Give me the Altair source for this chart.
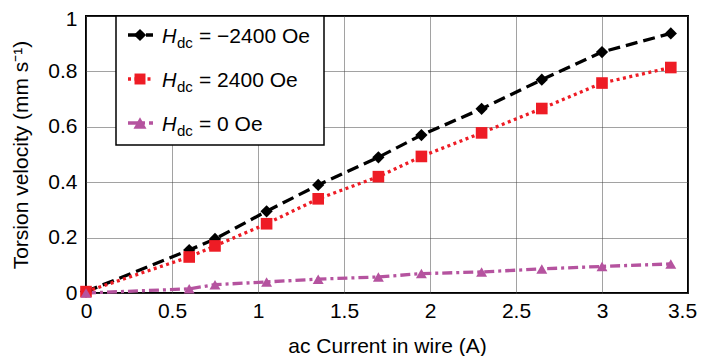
import altair as alt
import pandas as pd

# ---- data ----
current = [0, 0.6, 0.75, 1.05, 1.35, 1.7, 1.95, 2.3, 2.65, 3.0, 3.4]
v_neg2400 = [0.005, 0.155, 0.195, 0.295, 0.39, 0.49, 0.57, 0.665, 0.77, 0.87, 0.937]
v_pos2400 = [0.005, 0.13, 0.17, 0.25, 0.34, 0.42, 0.493, 0.578, 0.666, 0.758, 0.814]
v_zero = [0.0, 0.015, 0.03, 0.04, 0.05, 0.058, 0.07, 0.076, 0.087, 0.096, 0.105]
series_keys = ["neg", "pos", "zero"]
legend_values = ["= \u22122400 Oe", "= 2400 Oe", "= 0 Oe"]
x_ticks = [0, 0.5, 1, 1.5, 2, 2.5, 3, 3.5]
y_ticks = [0, 0.2, 0.4, 0.6, 0.8, 1]

rows = []
for key, vals in zip(series_keys, [v_neg2400, v_pos2400, v_zero]):
    for c, v in zip(current, vals):
        rows.append({"series": key, "current": c, "velocity": v})
df = pd.DataFrame(rows)

FONT = "Liberation Sans"
colors = ["#000000", "#ee1c25", "#b5539f"]
dashes = [[12, 6], [3, 3.5], [10, 4, 3, 4]]
shapes = ["diamond", "square", "triangle-up"]
sizes = [150, 120, 170]

color_scale = alt.Scale(domain=series_keys, range=colors)
dash_scale = alt.Scale(domain=series_keys, range=dashes)
shape_scale = alt.Scale(domain=series_keys, range=shapes)
size_scale = alt.Scale(domain=series_keys, range=sizes)

x_enc = alt.X("current:Q",
              scale=alt.Scale(domain=[0, 3.5], nice=False, zero=False),
              axis=alt.Axis(values=x_ticks, format="~g", title="ac Current in wire (A)",
                            labelPadding=7, titlePadding=14, labelFlush=False, labelOverlap=False,
                            labelOffset=alt.ExprRef(expr="datum.value == 3.5 ? -6 : 0")))
y_enc = alt.Y("velocity:Q",
              scale=alt.Scale(domain=[0, 1], nice=False),
              axis=alt.Axis(values=y_ticks, format="~g", title="Torsion velocity (mm s\u207b\u00b9)",
                            labelPadding=9, titlePadding=16, labelFlush=False, labelOverlap=False,
                            labelOffset=alt.ExprRef(expr="datum.value == 1 ? 3 : 0")))

base = alt.Chart(df)
lines = base.mark_line(strokeWidth=3.3).encode(
    x=x_enc, y=y_enc,
    color=alt.Color("series:N", scale=color_scale, legend=None),
    strokeDash=alt.StrokeDash("series:N", scale=dash_scale, legend=None),
)
points = base.mark_point(filled=True, opacity=1).encode(
    x="current:Q", y="velocity:Q",
    color=alt.Color("series:N", scale=color_scale, legend=None),
    shape=alt.Shape("series:N", scale=shape_scale, legend=None),
    size=alt.Size("series:N", scale=size_scale, legend=None),
)

layers = [lines, points]
one = pd.DataFrame({"a": [0]})

# legend box
layers.append(alt.Chart(one).mark_rect(fill="white", stroke="black", strokeWidth=1.5).encode(
    x=alt.value(30), x2=alt.value(238), y=alt.value(0), y2=alt.value(129)))

for i in range(3):
    yc = 19 + 44 * i
    yb = 27 + 44 * i
    layers.append(alt.Chart(one).mark_rule(strokeWidth=3.3, strokeDash=dashes[i], color=colors[i]).encode(
        x=alt.value(42), x2=alt.value(67), y=alt.value(yc)))
    layers.append(alt.Chart(one).mark_point(filled=True, opacity=1, color=colors[i], shape=shapes[i]).encode(
        x=alt.value(54), y=alt.value(yc), size=alt.value(sizes[i])))
    layers.append(alt.Chart(one).mark_text(font=FONT, fontSize=20, fontStyle="italic", align="left",
                                           baseline="alphabetic", color="black").encode(
        x=alt.value(76), y=alt.value(yb), text=alt.value("H")))
    layers.append(alt.Chart(one).mark_text(font=FONT, fontSize=15, align="left",
                                           baseline="alphabetic", color="black").encode(
        x=alt.value(91), y=alt.value(yb + 5), text=alt.value("dc")))
    layers.append(alt.Chart(one).mark_text(font=FONT, fontSize=21, align="left",
                                           baseline="alphabetic", color="black").encode(
        x=alt.value(113), y=alt.value(yb), text=alt.value(legend_values[i])))

chart = alt.layer(*layers).properties(
    width=602, height=277,
    padding={"left": 78, "top": 8, "right": 9, "bottom": 63},
    autosize=alt.AutoSizeParams(type="none"),
).configure_view(
    stroke="black", strokeWidth=2
).configure_axis(
    domain=False, ticks=False,
    grid=True, gridColor="#444", gridDash=[1, 1], gridWidth=1,
    labelFont=FONT, labelFontSize=21, labelColor="black",
    titleFont=FONT, titleFontSize=21, titleFontWeight="normal", titleColor="black",
)

chart.save("out.html", embed_options={"renderer": "svg", "actions": False})
